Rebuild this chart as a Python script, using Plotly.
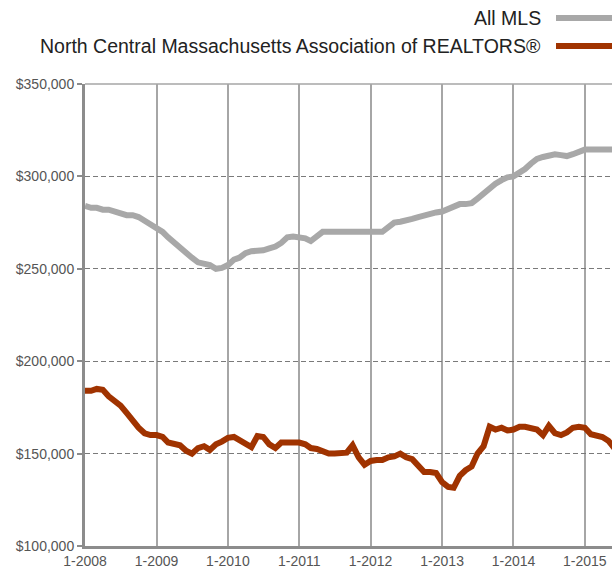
import plotly.graph_objects as go
import pandas as pd

# Monthly values, Jan 2008 onward (rolling 12-month median sales price)
all_mls = [284000, 283000, 283000, 282000, 282000, 281000, 280000, 279000, 279000, 278000, 276000, 274000,
           272500, 270000, 267000, 264000, 261000, 258000, 256000, 253500, 252500, 252000, 250000, 250500,
           252000, 255000, 256000, 258500, 259500, 259500, 260000, 261000, 262000, 264000, 267000, 267500,
           267000, 266500, 265000, 268000, 270000, 270000, 270000, 270000, 270000, 270000, 270000, 270000,
           270000, 270000, 270000, 272500, 275000, 275500, 276000, 277000, 278000, 279000, 280000, 280500,
           281000, 282500, 284000, 285000, 285000, 285500, 288000, 291000, 294000, 296000, 298000, 299500,
           300000, 302000, 304000, 307000, 309500, 310500, 311000, 312000, 311500, 311000, 312000, 313500,
           314500, 314500, 314500, 314500, 314500, 314500]
ncmar = [184000, 184000, 185000, 184500, 181000, 178500, 176000, 172000, 167500, 164000, 161000, 160000,
         160000, 159000, 156000, 155000, 154500, 151500, 150000, 153000, 154000, 152000, 155000, 156500,
         158500, 159000, 157000, 155000, 153500, 159500, 159000, 155000, 153000, 156000, 156000, 156000,
         156000, 155000, 153000, 152500, 151500, 150000, 150000, 150000, 150500, 154500, 148000, 144000,
         146000, 146500, 146500, 148000, 148500, 150000, 148000, 147000, 144000, 140000, 140000, 139500,
         134500, 132000, 131500, 138000, 141000, 143000, 150000, 154000, 164500, 163000, 164000, 162500,
         163000, 164500, 164500, 164000, 163000, 160000, 165000, 161000, 160000, 161500, 164000, 164500,
         164000, 160500, 159500, 159000, 157000, 153000]
months = pd.date_range("2008-01-01", periods=len(all_mls), freq="MS")

series_names = ["All MLS", "North Central Massachusetts Association of REALTORS®"]
series_colors = ["#a8a8a8", "#a03300"]

year_ticks = pd.date_range("2008-01-01", "2015-01-01", freq="YS")
year_labels = ["1-2008", "1-2009", "1-2010", "1-2011", "1-2012", "1-2013", "1-2014", "1-2015"]
y_ticks = [100000, 150000, 200000, 250000, 300000, 350000]
y_labels = ["$100,000", "$150,000", "$200,000", "$250,000", "$300,000", "$350,000"]

W, H = 612, 571
ML, MR, MT, MB = 85, 0, 84, 25
PW, PH = W - ML - MR, H - MT - MB

def px_x(x):  # window pixel -> paper
    return (x - ML) / PW

def px_y(y):
    return (H - MB - y) / PH

fig = go.Figure()
fig.add_trace(go.Scatter(x=months, y=all_mls, mode="lines", name=series_names[0],
                         line=dict(color=series_colors[0], width=6), showlegend=False))
fig.add_trace(go.Scatter(x=months, y=ncmar, mode="lines", name=series_names[1],
                         line=dict(color=series_colors[1], width=6), showlegend=False))

font_family = "Liberation Sans, Arial, sans-serif"

fig.update_layout(
    width=W, height=H,
    margin=dict(l=ML, r=MR, t=MT, b=MB),
    paper_bgcolor="white", plot_bgcolor="white",
    font=dict(family=font_family, size=14, color="#555555"),
    xaxis=dict(
        range=["2008-01-01", "2015-05-20"],
        tickvals=year_ticks, ticktext=year_labels,
        showgrid=True, gridcolor="#a6a6a6", gridwidth=1.5,
        showline=True, linecolor="#8c8c8c", linewidth=3,
        ticks="", tickfont=dict(size=14, color="#555555"),
        zeroline=False, automargin=False,
    ),
    yaxis=dict(
        range=[100000, 350000],
        tickvals=y_ticks, ticktext=y_labels,
        showgrid=True, gridcolor="#7a7a7a", gridwidth=1, griddash="5px,3px",
        showline=True, linecolor="#8c8c8c", linewidth=3,
        ticks="outside", ticklen=5, tickcolor="#8c8c8c", tickwidth=2,
        tickfont=dict(size=14, color="#555555"),
        zeroline=False, automargin=False,
    ),
)

# top border of plot area
fig.add_shape(type="line", xref="paper", yref="paper", x0=0, x1=1, y0=1, y1=1,
              line=dict(color="#a6a6a6", width=1.5))

# legend (text on left, swatch on right) drawn as annotations + shapes
legend_y = [18, 46]
for name, color, ypx in zip(series_names, series_colors, legend_y):
    fig.add_annotation(x=px_x(543), y=px_y(ypx), xref="paper", yref="paper", text=name,
                       showarrow=False, xanchor="right", yanchor="middle",
                       font=dict(size=19.5, color="#222222", family=font_family))
    fig.add_shape(type="line", xref="paper", yref="paper",
                  x0=px_x(556), x1=px_x(625), y0=px_y(ypx), y1=px_y(ypx),
                  line=dict(color=color, width=6))

fig.write_html(
    "out.html",
    config={"displayModeBar": False},
    post_script="document.body.style.margin='0';document.body.style.overflow='hidden';",
)
